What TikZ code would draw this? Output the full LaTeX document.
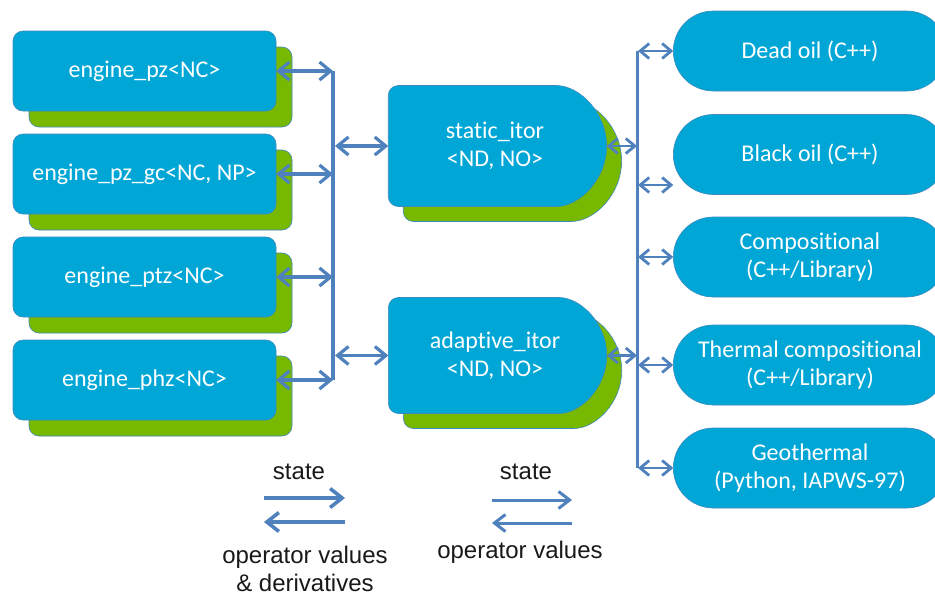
\documentclass[tikz,border=0pt]{standalone}
\usepackage{fontspec}
\setmainfont{Carlito}[Ligatures=NoCommon]
\newfontfamily\legendfont{Liberation Sans}
\usepackage{xcolor}
\usetikzlibrary{positioning, arrows.meta, shapes.misc, shadows}

\definecolor{boxblue}{RGB}{0,166,214}
\definecolor{edgeblue}{RGB}{62,138,190}
\definecolor{leafgreen}{RGB}{119,184,0}
\definecolor{linkblue}{RGB}{79,129,189}

\tikzset{
  boxtext/.style={text=white, align=center, font=\fontsize{24}{28}\selectfont},
  engine/.style={boxtext, rectangle, rounded corners=10pt, fill=boxblue, draw=edgeblue,
    line width=0.6pt, outer sep=0pt, minimum width=263pt, minimum height=80pt,
    copy shadow={shadow xshift=16pt, shadow yshift=-16pt, fill=leafgreen, draw=edgeblue}},
  itor/.style={boxtext, rounded rectangle, rounded rectangle left arc=none, rounded corners=10pt,
    fill=boxblue, draw=edgeblue, line width=0.6pt, outer sep=0pt, minimum width=225pt, minimum height=121pt,
    copy shadow={shadow xshift=15pt, shadow yshift=-15pt, fill=leafgreen, draw=edgeblue}},
  fluid/.style={boxtext, rounded rectangle, fill=boxblue, draw=edgeblue, line width=0.6pt,
    outer sep=0pt, minimum width=280pt, minimum height=80pt},
  legend/.style={font=\legendfont\fontsize{24}{28}\selectfont, align=center, text=black!90},
  bus/.style={draw=linkblue, line width=3.2pt},
  link/.style={{Straight Barb[length=11pt,width=18pt]}-{Straight Barb[length=11pt,width=18pt]},
    draw=linkblue, line width=3.2pt},
  thinlink/.style={{Straight Barb[length=9pt,width=15pt]}-{Straight Barb[length=9pt,width=15pt]},
    draw=linkblue, line width=2.8pt},
}

\begin{document}
\begin{tikzpicture}[x=1pt, y=-1pt, node distance=23pt]
  \fill[white] (0,0) rectangle (935,595);
  \useasboundingbox (0,0) rectangle (935,595);
  \clip (0,0) rectangle (935,595);

  % engines
  \node[engine] (pz) at (144.5,71) {engine\_pz<NC>};
  \node[engine] (pzgc) [below=of pz] {engine\_pz\_gc<NC, NP>};
  \node[engine] (ptz) [below=of pzgc] {engine\_ptz<NC>};
  \node[engine] (phz) [below=of ptz] {engine\_phz<NC>};

  % interpolators
  \node[itor] (static) at (495,146) {static\_itor\\<ND, NO>};
  \node[itor, minimum height=116pt] (adaptive) at (495,355.5) {adaptive\_itor\\<ND, NO>};

  % physics
  \node[fluid] (deadoil) at (810,51) {Dead oil (C++)};
  \node[fluid] (blackoil) at (810,154.5) {Black oil (C++)};
  \node[fluid] (comp) at (810,257) {Compositional\\(C++/Library)};
  \node[fluid] (thermal) at (810,365) {Thermal compositional\\(C++/Library)};
  \node[fluid] (geo) at (810,468) {Geothermal\\(Python, IAPWS-97)};

  \coordinate (busL) at (333,0);
  \coordinate (busR) at (637,0);

  \draw[bus] (busL |- pz.east) -- (busL |- phz.east);
  \foreach \e in {pz, pzgc, ptz, phz}
    \draw[link] (\e.east) -- (\e.east -| busL);
  \foreach \i in {static, adaptive} {
    \draw[link] ([xshift=2pt]busL |- \i.west) -- (\i.west);
    \draw[thinlink] (\i.east) -- (\i.east -| busR);
  }

  \draw[bus, line width=3pt] (busR |- deadoil.west) -- (busR |- geo.west);
  \draw[thinlink] ([xshift=1pt]busR |- deadoil.west) -- (deadoil.west);
  \draw[thinlink] ([xshift=1pt]busR |- blackoil.west) ++(0,30.5) coordinate (bo) -- (bo -| blackoil.west);
  \draw[thinlink] ([xshift=1pt]busR |- comp.west) -- (comp.west);
  \draw[thinlink] ([xshift=1pt]busR |- thermal.west) -- (thermal.west);
  \draw[thinlink] ([xshift=1pt]busR |- geo.west) -- (geo.west);

  % legend
  \node[legend] (state1) at (299,472) {state};
  \node[legend] (ops1) at (305,569) {operator values\\\& derivatives};
  \coordinate (a1) at (264,498);
  \coordinate (b1) at (345,498);
  \coordinate (c1) at (264,522);
  \coordinate (d1) at (345,522);
  \draw[draw=linkblue, line width=3.6pt, -{Straight Barb[length=12pt,width=19pt]}] (a1) -- (b1);
  \draw[draw=linkblue, line width=3.6pt, -{Straight Barb[length=12pt,width=19pt]}] (d1) -- (c1);

  \node[legend] (state2) at (526,472) {state};
  \node[legend] (ops2) at (520,552) {operator values};
  \coordinate (a2) at (492,500);
  \coordinate (b2) at (572,500);
  \coordinate (c2) at (492,523);
  \coordinate (d2) at (572,523);
  \draw[draw=linkblue, line width=3pt, -{Straight Barb[length=11pt,width=17pt]}] (a2) -- (b2);
  \draw[draw=linkblue, line width=3pt, -{Straight Barb[length=11pt,width=17pt]}] (d2) -- (c2);
\end{tikzpicture}
\end{document}
